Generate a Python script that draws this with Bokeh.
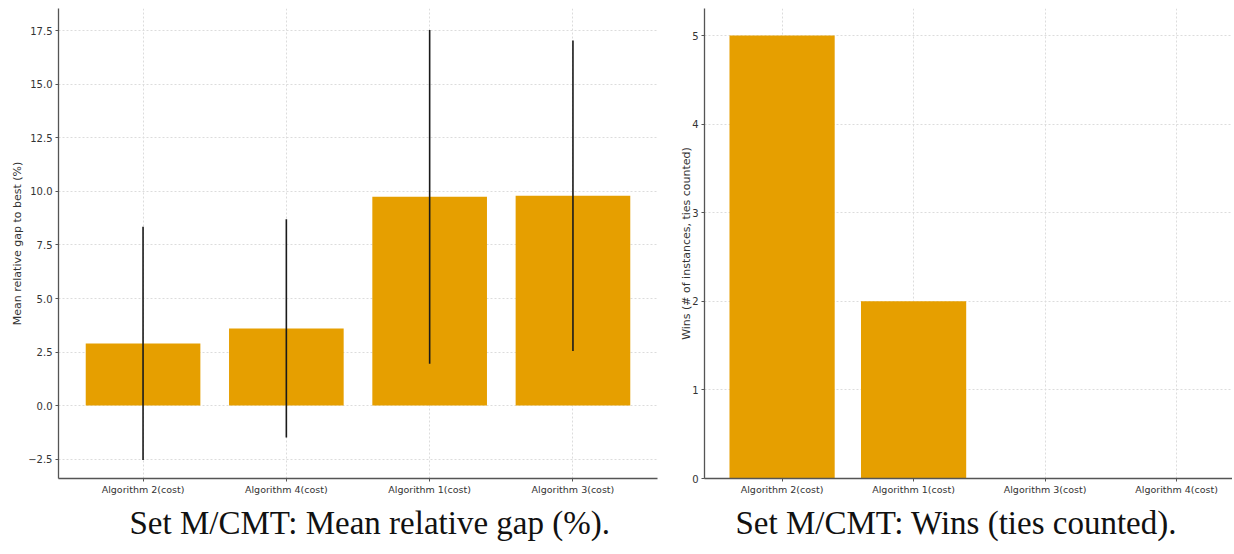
from bokeh.plotting import figure
from bokeh.models import Range1d, FixedTicker, ColumnDataSource, Title
from bokeh.layouts import row
from bokeh.embed import file_html
from bokeh.resources import INLINE

# ---- data ----
gap_categories = ["Algorithm 2(cost)", "Algorithm 4(cost)", "Algorithm 1(cost)", "Algorithm 3(cost)"]
gap_mean = [2.9, 3.6, 9.75, 9.8]
gap_std = [5.45, 5.1, 7.8, 7.25]
gap_yticks = [-2.5, 0.0, 2.5, 5.0, 7.5, 10.0, 12.5, 15.0, 17.5]

wins_categories = ["Algorithm 2(cost)", "Algorithm 1(cost)", "Algorithm 3(cost)", "Algorithm 4(cost)"]
wins_values = [5, 2, 0, 0]
wins_yticks = [0, 1, 2, 3, 4, 5]

caption_left = "Set M/CMT: Mean relative gap (%)."
caption_right = "Set M/CMT: Wins (ties counted)."

BAR = "#E69F00"
AXC = "#555555"
TXT = "#333333"
TICKFONT = "DejaVu Sans"
CAPFONT = "Liberation Serif"
H = 554


def style(p, ylabel, ylab_standoff):
    p.outline_line_color = None
    p.background_fill_color = "white"
    for ax in (p.xaxis[0], p.yaxis[0]):
        ax.axis_line_color = AXC
        ax.axis_line_width = 1.3
        ax.major_tick_line_color = AXC
        ax.major_tick_in = 0
        ax.major_tick_out = 3
        ax.minor_tick_line_color = None
        ax.major_label_text_font = TICKFONT
        ax.major_label_text_color = TXT
        ax.major_label_text_font_size = "10px"
        ax.major_label_standoff = 3
    p.xaxis[0].major_label_standoff = 2
    p.xaxis[0].major_label_text_font_size = "9.5px"
    p.yaxis[0].axis_label = ylabel
    p.yaxis[0].axis_label_text_font = TICKFONT
    p.yaxis[0].axis_label_text_font_style = "normal"
    p.yaxis[0].axis_label_text_font_size = "11px"
    p.yaxis[0].axis_label_text_color = TXT
    p.yaxis[0].axis_label_standoff = ylab_standoff
    for g in (p.xgrid[0], p.ygrid[0]):
        g.grid_line_color = "#dcdcdc"
        g.grid_line_dash = "2 2"
        g.grid_line_width = 1


def caption(p, text, offset):
    p.add_layout(Title(text=text, align="left", offset=offset, standoff=11,
                       text_font=CAPFONT, text_font_size="33px", text_font_style="normal",
                       text_color="#111111"), "below")


# ---- left chart ----
xl = list(range(len(gap_categories)))
src_l = ColumnDataSource(dict(
    x=xl, top=gap_mean,
    lo=[m - s for m, s in zip(gap_mean, gap_std)],
    hi=[m + s for m, s in zip(gap_mean, gap_std)],
))
p1 = figure(width=665, height=H, output_backend="svg", toolbar_location=None,
            x_range=Range1d(-0.59, len(gap_categories) - 1 + 0.59),
            y_range=Range1d(-3.41, 18.55),
            min_border_left=58, min_border_right=8, min_border_top=8, min_border_bottom=76)
p1.vbar(x="x", top="top", bottom=0, width=0.8, source=src_l, fill_color=BAR, line_color=None)
p1.segment(x0="x", y0="lo", x1="x", y1="hi", source=src_l, line_color="#1a1a1a", line_width=1.6)
style(p1, "Mean relative gap to best (%)", 1)
p1.xaxis[0].ticker = FixedTicker(ticks=xl)
p1.xaxis[0].major_label_overrides = {i: c for i, c in enumerate(gap_categories)}
p1.yaxis[0].ticker = FixedTicker(ticks=gap_yticks)
p1.yaxis[0].major_label_overrides = {v: (f"{v:.1f}".replace("-", "\u2212")) for v in gap_yticks}
p1.xgrid[0].ticker = FixedTicker(ticks=xl)
p1.ygrid[0].ticker = FixedTicker(ticks=gap_yticks)
caption(p1, caption_left, 71)

# ---- right chart ----
xr = list(range(len(wins_categories)))
src_r = ColumnDataSource(dict(x=xr, top=wins_values))
p2 = figure(width=567, height=H, output_backend="svg", toolbar_location=None,
            x_range=Range1d(-0.59, 3.425),
            y_range=Range1d(0, 5.305),
            min_border_left=39, min_border_right=0, min_border_top=8, min_border_bottom=76)
p2.vbar(x="x", top="top", bottom=0, width=0.8, source=src_r, fill_color=BAR, line_color=None)
style(p2, "Wins (# of instances, ties counted)", -4)
p2.xaxis[0].ticker = FixedTicker(ticks=xr)
p2.xaxis[0].major_label_overrides = {i: c for i, c in enumerate(wins_categories)}
p2.yaxis[0].ticker = FixedTicker(ticks=wins_yticks)
p2.xgrid[0].ticker = FixedTicker(ticks=xr)
p2.ygrid[0].ticker = FixedTicker(ticks=wins_yticks)
caption(p2, caption_right, 31)

layout = row(p1, p2)
open("out.html", "w").write(file_html(layout, INLINE))
